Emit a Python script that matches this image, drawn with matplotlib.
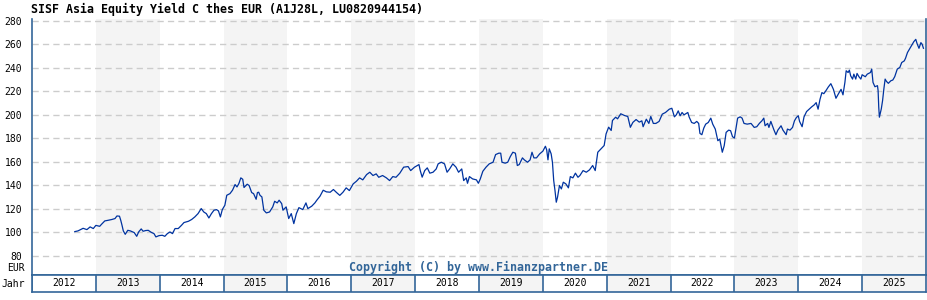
import matplotlib.pyplot as plt
import numpy as np

# decimal year / fund price in EUR
years = [2012.67, 2012.72, 2012.80, 2012.86, 2012.91, 2012.96, 2013.00, 2013.06, 2013.09, 2013.14,
         2013.19, 2013.25, 2013.30, 2013.33, 2013.37, 2013.39, 2013.41, 2013.43, 2013.46, 2013.50,
         2013.54, 2013.60, 2013.64, 2013.67, 2013.71, 2013.74, 2013.78, 2013.82, 2013.87, 2013.91,
         2013.94, 2013.99, 2014.04, 2014.08, 2014.12, 2014.16, 2014.20, 2014.24, 2014.29, 2014.34,
         2014.38, 2014.45, 2014.50, 2014.55, 2014.60, 2014.65, 2014.69, 2014.73, 2014.77, 2014.81,
         2014.85, 2014.89, 2014.92, 2014.95, 2014.98, 2015.02, 2015.05, 2015.10, 2015.14, 2015.18,
         2015.21, 2015.24, 2015.27, 2015.30, 2015.32, 2015.34, 2015.37, 2015.40, 2015.44, 2015.47,
         2015.51, 2015.53, 2015.55, 2015.57, 2015.60, 2015.63, 2015.67, 2015.72, 2015.77, 2015.80,
         2015.84, 2015.87, 2015.91, 2015.93, 2015.98, 2016.02, 2016.06, 2016.10, 2016.14, 2016.18,
         2016.24, 2016.29, 2016.32, 2016.38, 2016.43, 2016.46, 2016.51, 2016.56, 2016.61, 2016.67,
         2016.72, 2016.77, 2016.82, 2016.87, 2016.92, 2016.97, 2017.03, 2017.08, 2017.13, 2017.18,
         2017.24, 2017.29, 2017.34, 2017.39, 2017.43, 2017.49, 2017.55, 2017.60, 2017.65, 2017.70,
         2017.76, 2017.82, 2017.89, 2017.93, 2017.99, 2018.06, 2018.08, 2018.11, 2018.15, 2018.19,
         2018.23, 2018.28, 2018.33, 2018.36, 2018.41, 2018.46, 2018.50, 2018.54, 2018.59, 2018.64,
         2018.68, 2018.73, 2018.76, 2018.80, 2018.82, 2018.85, 2018.90, 2018.96, 2018.99, 2019.02,
         2019.06, 2019.11, 2019.16, 2019.22, 2019.26, 2019.31, 2019.34, 2019.36, 2019.41, 2019.45,
         2019.49, 2019.53, 2019.57, 2019.60, 2019.63, 2019.68, 2019.71, 2019.76, 2019.80, 2019.83,
         2019.86, 2019.90, 2019.95, 2020.00, 2020.04, 2020.06, 2020.08, 2020.10, 2020.13, 2020.15,
         2020.17, 2020.19, 2020.21, 2020.23, 2020.26, 2020.29, 2020.32, 2020.36, 2020.40, 2020.43,
         2020.47, 2020.51, 2020.55, 2020.58, 2020.63, 2020.68, 2020.73, 2020.78, 2020.82, 2020.86,
         2020.91, 2020.96, 2020.99, 2021.03, 2021.07, 2021.09, 2021.14, 2021.17, 2021.22, 2021.28,
         2021.33, 2021.37, 2021.41, 2021.46, 2021.51, 2021.55, 2021.57, 2021.62, 2021.66, 2021.69,
         2021.73, 2021.77, 2021.82, 2021.87, 2021.92, 2021.95, 2021.98, 2022.02, 2022.06, 2022.09,
         2022.12, 2022.15, 2022.18, 2022.21, 2022.27, 2022.29, 2022.33, 2022.37, 2022.41, 2022.44,
         2022.46, 2022.49, 2022.52, 2022.55, 2022.59, 2022.63, 2022.66, 2022.70, 2022.74, 2022.77,
         2022.79, 2022.81, 2022.84, 2022.87, 2022.91, 2022.94, 2022.97, 2023.00, 2023.02, 2023.05,
         2023.09, 2023.12, 2023.15, 2023.20, 2023.26, 2023.31, 2023.35, 2023.39, 2023.43, 2023.46,
         2023.48, 2023.52, 2023.54, 2023.57, 2023.60, 2023.62, 2023.65, 2023.68, 2023.73, 2023.76,
         2023.81, 2023.83, 2023.87, 2023.91, 2023.94, 2023.97, 2024.00, 2024.02, 2024.06, 2024.09,
         2024.13, 2024.17, 2024.21, 2024.25, 2024.28, 2024.31, 2024.34, 2024.37, 2024.40, 2024.43,
         2024.47, 2024.51, 2024.55, 2024.59, 2024.63, 2024.67, 2024.70, 2024.73, 2024.75, 2024.78,
         2024.80, 2024.82, 2024.85, 2024.87, 2024.90, 2024.92, 2024.95, 2024.98, 2025.00, 2025.05,
         2025.08, 2025.13, 2025.15, 2025.17, 2025.20, 2025.24, 2025.25, 2025.26, 2025.27, 2025.30,
         2025.32, 2025.34, 2025.36, 2025.38, 2025.41, 2025.45, 2025.48, 2025.51, 2025.55, 2025.59,
         2025.62, 2025.66, 2025.68, 2025.71, 2025.74, 2025.78, 2025.81, 2025.84, 2025.86, 2025.89,
         2025.92, 2025.94, 2025.96]
prices = [100.7, 101.3, 103.5, 102.4, 104.7, 103.3, 106.0, 105.2, 107.0, 109.8,
          110.3, 111.0, 111.8, 114.0, 113.8, 110.3, 106.0, 101.3, 98.4, 101.8,
          101.3, 99.9, 96.7, 100.4, 103.0, 101.0, 101.6, 101.8, 100.0, 99.0,
          96.2, 97.3, 97.6, 96.7, 99.0, 100.4, 99.0, 103.3, 103.3, 106.0,
          108.4, 109.5, 111.0, 113.2, 116.0, 120.3, 117.4, 116.0, 112.3, 116.0,
          118.9, 119.4, 118.3, 113.2, 119.4, 123.1, 131.6, 133.0, 135.9, 140.7,
          138.7, 141.6, 146.4, 145.2, 138.2, 139.3, 141.0, 139.9, 133.9, 133.0,
          128.2, 133.9, 134.2, 131.6, 130.2, 118.9, 116.6, 117.4, 121.7, 126.5,
          125.1, 127.4, 124.5, 118.9, 121.7, 111.8, 116.0, 107.5, 116.0, 121.1,
          119.4, 125.1, 120.3, 122.3, 125.1, 127.4, 130.8, 135.9, 134.5, 134.2,
          136.5, 133.9, 131.5, 134.2, 137.9, 135.6, 141.3, 143.5, 146.4, 144.7,
          149.2, 151.2, 148.4, 149.8, 146.9, 148.4, 146.4, 144.1, 147.5, 146.9,
          150.4, 155.5, 156.0, 152.6, 155.5, 157.7, 152.6, 147.0, 152.6, 154.9,
          150.4, 151.2, 154.0, 158.3, 159.7, 158.3, 151.2, 154.0, 158.3, 155.5,
          151.2, 154.0, 144.1, 146.4, 141.8, 147.5, 145.5, 144.7, 141.8, 145.5,
          152.0, 155.5, 158.3, 159.7, 166.2, 167.4, 167.4, 159.7, 158.9, 159.7,
          164.5, 168.2, 167.4, 156.9, 157.7, 163.4, 161.7, 159.7, 161.7, 168.2,
          163.4, 163.4, 166.8, 169.1, 173.3, 170.2, 161.7, 171.1, 166.8, 159.7,
          144.1, 135.6, 125.7, 130.0, 139.9, 137.0, 142.7, 141.3, 137.9, 147.5,
          146.4, 150.4, 146.9, 148.4, 152.6, 151.2, 153.2, 156.9, 152.6, 168.2,
          171.1, 173.9, 183.8, 189.5, 186.7, 195.2, 198.0, 196.6, 200.9, 199.4,
          198.6, 189.4, 193.6, 196.0, 193.8, 194.9, 189.9, 196.3, 192.7, 198.6,
          192.7, 192.7, 194.4, 200.6, 202.0, 203.4, 204.8, 205.6, 198.3, 200.0,
          203.4, 199.2, 202.0, 200.0, 202.0, 198.3, 193.5, 192.7, 194.4, 192.7,
          184.2, 183.1, 188.7, 192.1, 193.5, 197.2, 192.1, 187.9, 178.0, 179.4,
          173.8, 168.2, 173.8, 185.1, 187.0, 186.5, 181.4, 180.3, 187.0, 197.2,
          198.3, 197.2, 192.7, 192.1, 192.7, 189.3, 189.9, 192.7, 194.9, 197.2,
          190.7, 192.7, 189.3, 194.4, 189.9, 187.0, 183.1, 187.0, 190.7, 187.0,
          183.1, 187.9, 187.0, 189.3, 194.9, 197.7, 199.2, 194.4, 189.9, 198.3,
          202.8, 204.8, 206.8, 208.5, 210.4, 204.8, 213.2, 218.9, 218.0, 220.3,
          223.7, 226.5, 221.7, 214.1, 218.0, 221.7, 217.0, 227.6, 237.5, 236.0,
          238.0, 233.2, 230.4, 234.6, 230.4, 235.2, 232.4, 230.4, 234.1, 232.4,
          234.6, 236.0, 238.9, 227.6, 223.9, 224.8, 220.6, 206.5, 198.0, 205.1,
          212.1, 222.0, 230.4, 228.5, 226.8, 229.0, 229.6, 232.4, 238.9, 240.3,
          244.5, 245.9, 248.2, 253.0, 255.8, 259.4, 262.3, 264.2, 260.6, 256.6,
          261.4, 260.0, 256.6]

year_labels = list(range(2012, 2026))
y_ticks = list(range(80, 281, 20))
title = "SISF Asia Equity Yield C thes EUR (A1J28L, LU0820944154)"

border = "#336699"
line_col = "#0033a0"
shade = "#f4f4f4"
mono = "DejaVu Sans Mono"

fig = plt.figure(figsize=(9.28, 3.0), dpi=100)
ax = fig.add_axes([32 / 928, 25 / 300, 894 / 928, 256 / 300])
ax.set_xlim(2012, 2026)
ax.set_ylim(63.8, 281.5)

for y in year_labels:
    if y % 2 == 1:
        ax.axvspan(y, y + 1, color=shade, lw=0, zorder=0)
for t in y_ticks:
    ax.axhline(t, color="#cccccc", lw=1.0, dashes=(4.5, 3), zorder=1)

ax.plot(years, prices, color=line_col, lw=0.9, zorder=3)

ax.set_xticks([])
ax.set_yticks(y_ticks)
ax.set_yticklabels([str(t) for t in y_ticks], family=mono, fontsize=7)
ax.tick_params(axis="y", length=0, pad=7)
for s in ["left", "right", "bottom"]:
    ax.spines[s].set_color(border)
    ax.spines[s].set_linewidth(1.2)
ax.spines["top"].set_visible(False)

fig.text(31 / 928, 1 - 9 / 300, title, family=mono, fontsize=8.4, fontweight="bold",
         ha="left", va="center")
ax.text(0.5, 0.028, "Copyright (C) by www.Finanzpartner.DE", transform=ax.transAxes,
        family=mono, fontsize=8.4, fontweight="bold", color=border, ha="center", va="center")
fig.text(25 / 928, 1 - 268 / 300, "EUR", family=mono, fontsize=7, ha="right", va="center")
fig.text(25 / 928, 1 - 284 / 300, "Jahr", family=mono, fontsize=7, ha="right", va="center")

# year band below the chart
bx = fig.add_axes([32 / 928, 8 / 300, 894 / 928, 17 / 300])
bx.set_xlim(2012, 2026)
bx.set_ylim(0, 1)
for y in year_labels:
    if y % 2 == 1:
        bx.axvspan(y, y + 1, color=shade, lw=0)
    bx.axvline(y, color=border, lw=1.2)
    bx.text(y + 0.5, 0.5, str(y), family=mono, fontsize=7, ha="center", va="center")
bx.set_xticks([])
bx.set_yticks([])
for s in bx.spines.values():
    s.set_color(border)
    s.set_linewidth(1.2)

fig.savefig("out.png", dpi=100)
